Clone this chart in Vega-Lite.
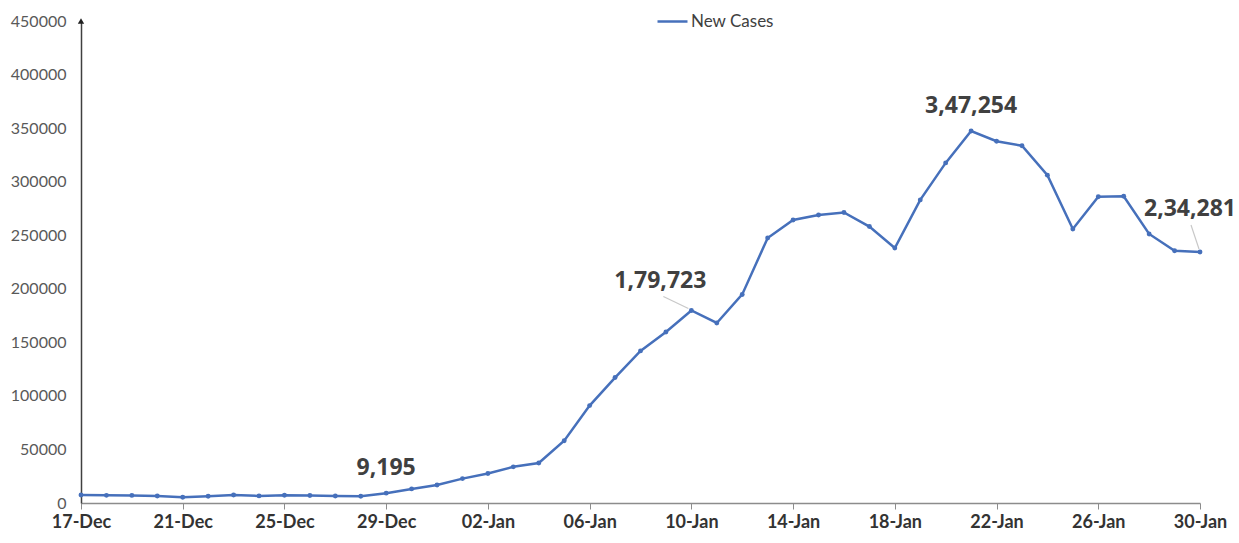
{
  "$schema": "https://vega.github.io/schema/vega-lite/v6.json",
  "width": 1119,
  "height": 482,
  "autosize": {"type": "none"},
  "padding": {"left": 81, "top": 21, "right": 39, "bottom": 40},
  "background": "white",
  "config": {"view": {"stroke": null}, "font": "Lato"},
  "data": {
    "values": [
      {"date": "2021-12-17", "cases": 7447},
      {"date": "2021-12-18", "cases": 7145},
      {"date": "2021-12-19", "cases": 7081},
      {"date": "2021-12-20", "cases": 6563},
      {"date": "2021-12-21", "cases": 5326},
      {"date": "2021-12-22", "cases": 6317},
      {"date": "2021-12-23", "cases": 7495},
      {"date": "2021-12-24", "cases": 6650},
      {"date": "2021-12-25", "cases": 7189},
      {"date": "2021-12-26", "cases": 6987},
      {"date": "2021-12-27", "cases": 6531},
      {"date": "2021-12-28", "cases": 6358},
      {"date": "2021-12-29", "cases": 9195, "note": "9,195"},
      {"date": "2021-12-30", "cases": 13154},
      {"date": "2021-12-31", "cases": 16764},
      {"date": "2022-01-01", "cases": 22775},
      {"date": "2022-01-02", "cases": 27553},
      {"date": "2022-01-03", "cases": 33750},
      {"date": "2022-01-04", "cases": 37379},
      {"date": "2022-01-05", "cases": 58097},
      {"date": "2022-01-06", "cases": 90928},
      {"date": "2022-01-07", "cases": 117100},
      {"date": "2022-01-08", "cases": 141986},
      {"date": "2022-01-09", "cases": 159632},
      {"date": "2022-01-10", "cases": 179723, "note": "1,79,723"},
      {"date": "2022-01-11", "cases": 168063},
      {"date": "2022-01-12", "cases": 194720},
      {"date": "2022-01-13", "cases": 247417},
      {"date": "2022-01-14", "cases": 264202},
      {"date": "2022-01-15", "cases": 268833},
      {"date": "2022-01-16", "cases": 271202},
      {"date": "2022-01-17", "cases": 258089},
      {"date": "2022-01-18", "cases": 238018},
      {"date": "2022-01-19", "cases": 282970},
      {"date": "2022-01-20", "cases": 317532},
      {"date": "2022-01-21", "cases": 347254, "note": "3,47,254"},
      {"date": "2022-01-22", "cases": 337704},
      {"date": "2022-01-23", "cases": 333533},
      {"date": "2022-01-24", "cases": 306064},
      {"date": "2022-01-25", "cases": 255874},
      {"date": "2022-01-26", "cases": 285914},
      {"date": "2022-01-27", "cases": 286384},
      {"date": "2022-01-28", "cases": 251209},
      {"date": "2022-01-29", "cases": 235532},
      {"date": "2022-01-30", "cases": 234281, "note": "2,34,281"}
    ]
  },
  "encoding": {
    "x": {
      "field": "date",
      "type": "temporal",
      "title": null,
      "scale": {
        "type": "utc",
        "nice": false,
        "domain": [
          {"year": 2021, "month": 12, "date": 17, "utc": true},
          {"year": 2022, "month": 1, "date": 30, "utc": true}
        ]
      },
      "axis": {
        "labelExpr": "utcFormat(datum.value, '%d-%b')",
        "values": [
          {"year": 2021, "month": 12, "date": 17, "utc": true},
          {"year": 2021, "month": 12, "date": 21, "utc": true},
          {"year": 2021, "month": 12, "date": 25, "utc": true},
          {"year": 2021, "month": 12, "date": 29, "utc": true},
          {"year": 2022, "month": 1, "date": 2, "utc": true},
          {"year": 2022, "month": 1, "date": 6, "utc": true},
          {"year": 2022, "month": 1, "date": 10, "utc": true},
          {"year": 2022, "month": 1, "date": 14, "utc": true},
          {"year": 2022, "month": 1, "date": 18, "utc": true},
          {"year": 2022, "month": 1, "date": 22, "utc": true},
          {"year": 2022, "month": 1, "date": 26, "utc": true},
          {"year": 2022, "month": 1, "date": 30, "utc": true}
        ],
        "grid": false,
        "domainColor": "#8c8c8c",
        "domainWidth": 1.5,
        "tickColor": "#8c8c8c",
        "tickSize": 6,
        "labelFont": "Lato",
        "labelFontSize": 18,
        "labelFontWeight": "bold",
        "labelColor": "#333333",
        "labelPadding": 4,
        "labelFlush": false,
        "labelBound": false,
        "labelOverlap": false
      }
    },
    "y": {
      "field": "cases",
      "type": "quantitative",
      "title": null,
      "scale": {"domain": [0, 450000], "nice": false},
      "axis": {
        "values": [0, 50000, 100000, 150000, 200000, 250000, 300000, 350000, 400000, 450000],
        "format": "d",
        "grid": false,
        "ticks": false,
        "domainColor": "#404040",
        "domainWidth": 1.5,
        "labelFont": "Lato",
        "labelFontSize": 16,
        "labelColor": "#595959",
        "labelPadding": 15
      }
    }
  },
  "layer": [
    {
      "mark": {
        "type": "line",
        "strokeWidth": 2.5,
        "point": {"filled": true, "size": 24}
      },
      "encoding": {
        "color": {
          "datum": "New Cases",
          "scale": {"range": ["#4670bb"]},
          "legend": {
            "orient": "none",
            "legendX": 575,
            "legendY": -16,
            "title": null,
            "symbolType": "stroke",
            "symbolSize": 900,
            "symbolStrokeWidth": 2.5,
            "labelFont": "Lato",
            "labelFontSize": 17,
            "labelColor": "#404040",
            "labelOffset": 2
          }
        }
      }
    },
    {
      "transform": [{"filter": "datum.cases === 7447"}],
      "mark": {"type": "point", "shape": "triangle-up", "filled": true, "size": 40, "color": "#202020", "opacity": 1},
      "encoding": {
        "y": {"datum": 450000, "type": "quantitative"}
      }
    },
    {
      "transform": [{"filter": {"field": "note", "equal": "1,79,723"}}],
      "mark": {"type": "rule", "color": "#c8c8c8", "strokeWidth": 1.2, "xOffset": -3, "yOffset": -2, "x2Offset": -28, "y2Offset": -14},
      "encoding": {
        "x2": {"field": "date"},
        "y2": {"field": "cases"}
      }
    },
    {
      "transform": [{"filter": {"field": "note", "equal": "2,34,281"}}],
      "mark": {"type": "rule", "color": "#c8c8c8", "strokeWidth": 1.2, "xOffset": -1, "yOffset": -3, "x2Offset": -9, "y2Offset": -27},
      "encoding": {
        "x2": {"field": "date"},
        "y2": {"field": "cases"}
      }
    },
    {
      "transform": [{"filter": {"field": "note", "oneOf": ["9,195", "3,47,254"]}}],
      "mark": {"type": "text", "font": "Open Sans", "fontSize": 23, "fontWeight": "bold", "color": "#404040", "baseline": "middle", "dy": -25},
      "encoding": {"text": {"field": "note"}}
    },
    {
      "transform": [{"filter": {"field": "note", "equal": "1,79,723"}}],
      "mark": {"type": "text", "font": "Open Sans", "fontSize": 23, "fontWeight": "bold", "color": "#404040", "baseline": "middle", "dx": -31, "dy": -29},
      "encoding": {"text": {"field": "note"}}
    },
    {
      "transform": [{"filter": {"field": "note", "equal": "2,34,281"}}],
      "mark": {"type": "text", "font": "Open Sans", "fontSize": 23, "fontWeight": "bold", "color": "#404040", "baseline": "middle", "dx": -10, "dy": -43},
      "encoding": {"text": {"field": "note"}}
    }
  ]
}
